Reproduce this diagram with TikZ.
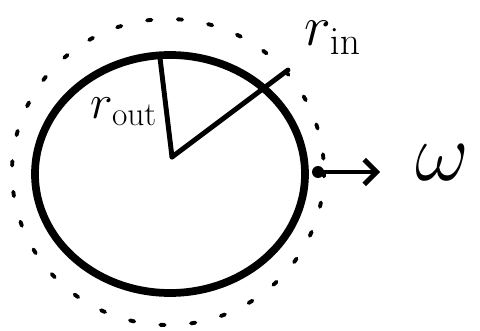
\documentclass[tikz,border=0pt]{standalone}
\usepackage{amsmath}
\usetikzlibrary{arrows.meta,positioning}

\begin{document}
\begin{tikzpicture}[
        x=0.02cm, y=-0.02cm,
        rim/.style={line width=4.4pt, line cap=round},
        radius line/.style={line width=2.8pt, line cap=round},
        orbit/.style={line width=2.2pt, line cap=round, dash pattern=on 2.5pt off 15pt},
        label/.style={font=\fontsize{24}{24}\selectfont, inner sep=0pt, scale=#1},
        label/.default=1.3
    ]
        \useasboundingbox (0,0) rectangle (480,331);
        % disc and the dotted path around it
        \draw[rim] (170,174) ellipse [x radius=135, y radius=119];
        \draw[orbit] (168,172) ellipse [x radius=156, y radius=153];
        % radii
        \coordinate (centre) at (172,157);
        \coordinate (outer) at (160,58);
        \coordinate (inner) at (288,70);
        \draw[radius line] (centre) -- (outer);
        \draw[radius line] (centre) -- (inner);
        \node[label=1.1] (rout) at (124,112) {$r_{\mathrm{out}}$};
        \node[label] (rin) at (333,38) {$r_{\mathrm{in}}$};
        % angular velocity
        \coordinate (dot) at (318,172);
        \coordinate (tip) at (380,172);
        \fill (dot) circle [radius=6];
        \draw[radius line, -{Straight Barb[length=7pt, width=14pt, line width=2.8pt]}] (dot) -- (tip);
        \node[label=1.9] (omega) at (442,163) {$\omega$};
    \end{tikzpicture}
\end{document}
